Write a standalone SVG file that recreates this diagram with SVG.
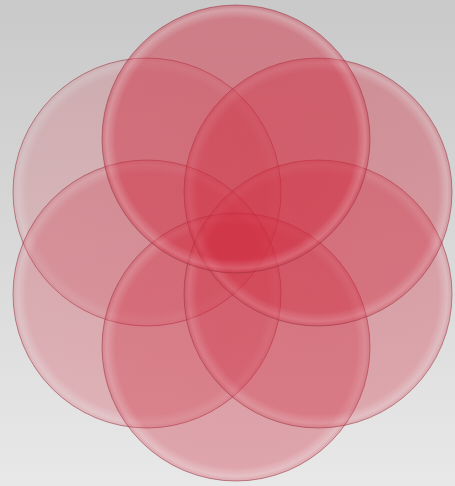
<svg xmlns="http://www.w3.org/2000/svg" width="455" height="486" viewBox="0 0 455 486">
<defs>
<linearGradient id="bg" x1="0" y1="0" x2="0" y2="1">
<stop offset="0" stop-color="#c9c9c9"/>
<stop offset="1" stop-color="#e8e8e8"/>
</linearGradient>
<radialGradient id="glass" cx="0.5" cy="0.5" r="0.5">
<stop offset="0" stop-color="#cf2438"/>
<stop offset="0.9" stop-color="#d02a3e"/>
<stop offset="0.965" stop-color="#e27683"/>
<stop offset="1" stop-color="#c83446"/>
</radialGradient>
<style>
.c{fill:url(#glass);stroke:#9c3444;stroke-width:0.8;stroke-opacity:0.7}
</style>
</defs>
<rect width="455" height="486" fill="url(#bg)"/>
<g id="circle-upper-left"><circle class="c" cx="147" cy="192" r="134" fill-opacity="0.2"/></g>
<g id="circle-lower-left"><circle class="c" cx="147" cy="294" r="134" fill-opacity="0.27"/></g>
<g id="circle-bottom"><circle class="c" cx="236" cy="347" r="134" fill-opacity="0.35"/></g>
<g id="circle-lower-right"><circle class="c" cx="318" cy="294" r="134" fill-opacity="0.33"/></g>
<g id="circle-upper-right"><circle class="c" cx="318" cy="192" r="134" fill-opacity="0.38"/></g>
<g id="circle-top"><circle class="c" cx="236" cy="139" r="134" fill-opacity="0.48"/></g>
</svg>
